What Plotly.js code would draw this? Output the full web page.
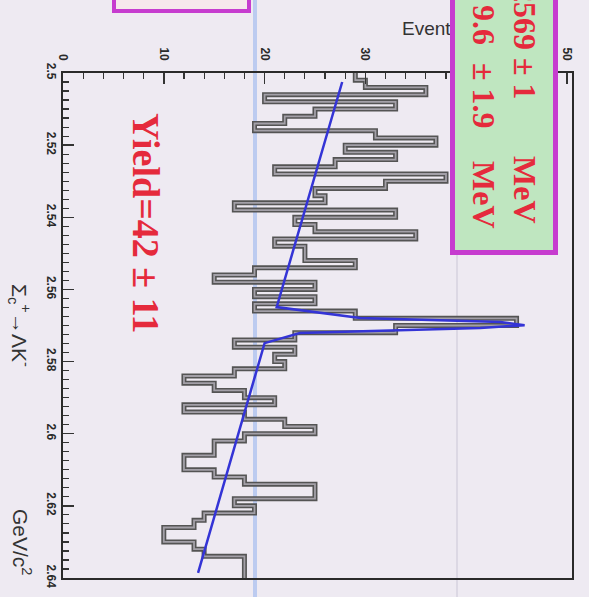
<!DOCTYPE html>
<html>
<head>
<meta charset="utf-8">
<script src="https://cdn.plot.ly/plotly-3.0.1.min.js"></script>
<style>
  html, body { margin: 0; padding: 0; background: #eeeaf2; }
  #chart { width: 589px; height: 597px; }
</style>
</head>
<body>
<div id="chart"></div>
<script>
// Invariant-mass histogram (2 MeV bins from 2.50 GeV), drawn sideways:
// mass runs down the page, events run to the right.
const binStart = 2.5;
const binWidth = 0.002;
const counts = [29, 30, 36, 20, 33, 25, 22, 19, 31, 37,
                28, 33, 27, 21, 38, 32, 25, 26, 17, 33,
                23, 25, 35, 21, 24, 24, 29, 19, 15, 25,
                19, 25, 19, 29, 45, 33, 23, 17, 23, 21,
                22, 17, 12, 15, 18, 21, 12, 18, 22, 25,
                18, 15, 15, 12, 12, 15, 18, 25, 25, 17,
                19, 14, 13, 10, 10, 13, 14, 18, 18, 18];

// Fitted curve: linear background plus the signal peak
const fitMass   = [2.5025, 2.5649, 2.5679, 2.5690, 2.5699, 2.5707, 2.5721, 2.5749, 2.6386];
const fitEvents = [27.7, 21.2, 29.5, 43.4, 45.8, 41.4, 23.5, 20.0, 13.4];

const massTicks    = [2.5, 2.52, 2.54, 2.56, 2.58, 2.6, 2.62, 2.64];
const massTickText = ["2.5", "2.52", "2.54", "2.56", "2.58", "2.6", "2.62", "2.64"];
const eventTicks    = [0, 10, 20, 30, 40, 50];
const eventTickText = ["0", "10", "20", "30", "40", "50"];

// step outline of the histogram
const stepX = [], stepY = [];
counts.forEach((c, i) => {
  const lo = binStart + i * binWidth;
  stepX.push(c, c);
  stepY.push(lo, lo + binWidth);
});

// page geometry
const W = 589, H = 597;
const M = { l: 63, r: 17, t: 73, b: 19 };
const pw = W - M.l - M.r, ph = H - M.t - M.b;
const px = x => (x - M.l) / pw;
const py = y => (H - M.b - y) / ph;

const red = '#e52a3c';
const serif = 'Liberation Serif, Times New Roman, serif';
const sans = 'Liberation Sans, Arial, sans-serif';

const traces = [
  { x: stepX, y: stepY, mode: 'lines', type: 'scatter',
    line: { color: '#545454', width: 5 }, hoverinfo: 'skip', showlegend: false },
  { x: stepX, y: stepY, mode: 'lines', type: 'scatter',
    line: { color: '#a3a0a8', width: 1.8 }, hoverinfo: 'skip', showlegend: false },
  { x: fitEvents, y: fitMass, mode: 'lines', type: 'scatter',
    line: { color: '#3434d6', width: 2.5 }, hoverinfo: 'skip', showlegend: false }
];

const axisFont = { family: sans, size: 12, color: '#2a2a2a', weight: 'bold' };

const layout = {
  width: W, height: H,
  margin: M,
  paper_bgcolor: '#eeeaf2',
  plot_bgcolor: 'rgba(0,0,0,0)',
  showlegend: false,
  xaxis: {
    range: [0, 50.5], side: 'top',
    tickvals: eventTicks, ticktext: eventTickText, tickangle: 90,
    ticks: 'inside', ticklen: 11, tickwidth: 1.5, tickcolor: '#333',
    minor: { dtick: 2, tick0: 0, ticks: 'inside', ticklen: 6, tickcolor: '#333', tickwidth: 1.2 },
    showline: true, linecolor: '#2a2a2a', linewidth: 2, mirror: true,
    showgrid: false, zeroline: false, tickfont: axisFont, ticklabelstandoff: 6
  },
  yaxis: {
    range: [2.64, 2.5],
    tickvals: massTicks, ticktext: massTickText, tickangle: 90,
    ticks: 'inside', ticklen: 11, tickwidth: 1.5, tickcolor: '#333',
    minor: { dtick: 0.0025, tick0: 2.5, ticks: 'inside', ticklen: 6, tickcolor: '#333', tickwidth: 1.2 },
    showline: true, linecolor: '#2a2a2a', linewidth: 2, mirror: true,
    showgrid: false, zeroline: false, tickfont: axisFont
  },
  shapes: [
    // pale guide line running across the page
    { type: 'line', xref: 'paper', yref: 'paper', x0: px(255), x1: px(255), y0: py(H + 5), y1: py(-5),
      line: { color: '#bccbf0', width: 4 }, layer: 'below' },
    { type: 'line', xref: 'paper', yref: 'paper', x0: px(457), x1: px(457), y0: py(H + 5), y1: py(255),
      line: { color: '#dcd8e4', width: 2 }, layer: 'below' },
    // lower edge of a framed label box
    { type: 'rect', xref: 'paper', yref: 'paper', x0: px(114), x1: px(249), y0: py(11), y1: py(-20),
      fillcolor: '#f6e8ec', line: { color: '#c63ccf', width: 4 }, layer: 'above' }
  ],
  annotations: [
    { xref: 'paper', yref: 'paper', x: px(400), y: py(27), xanchor: 'left', yanchor: 'middle',
      text: 'Events/(2 MeV/c<sup>2</sup>)', showarrow: false,
      font: { family: sans, size: 19, color: '#333' } },
    // framed fit-result box
    { xref: 'paper', yref: 'paper', x: px(504), y: py(105), xanchor: 'center', yanchor: 'middle',
      text: ' ', showarrow: false, width: 98, height: 290,
      bgcolor: '#bfe6c0', bordercolor: '#c63ccf', borderwidth: 5, borderpad: 0 },
    { xref: 'paper', yref: 'paper', x: px(525), y: py(18), xanchor: 'center', yanchor: 'middle',
      text: '<b>2569</b>', textangle: 90, showarrow: false, font: { family: serif, size: 32, color: red } },
    { xref: 'paper', yref: 'paper', x: px(525), y: py(79), xanchor: 'center', yanchor: 'middle',
      text: '<b>± 1</b>', textangle: 90, showarrow: false, font: { family: serif, size: 32, color: red } },
    { xref: 'paper', yref: 'paper', x: px(525), y: py(190), xanchor: 'center', yanchor: 'middle',
      text: '<b>MeV</b>', textangle: 90, showarrow: false, font: { family: serif, size: 32, color: red } },
    { xref: 'paper', yref: 'paper', x: px(484), y: py(25), xanchor: 'center', yanchor: 'middle',
      text: '<b>9.6</b>', textangle: 90, showarrow: false, font: { family: serif, size: 32, color: red } },
    { xref: 'paper', yref: 'paper', x: px(484), y: py(96), xanchor: 'center', yanchor: 'middle',
      text: '<b>± 1.9</b>', textangle: 90, showarrow: false, font: { family: serif, size: 32, color: red } },
    { xref: 'paper', yref: 'paper', x: px(484), y: py(195), xanchor: 'center', yanchor: 'middle',
      text: '<b>MeV</b>', textangle: 90, showarrow: false, font: { family: serif, size: 32, color: red } },
    // signal yield
    { xref: 'paper', yref: 'paper', x: px(146), y: py(223), xanchor: 'center', yanchor: 'middle',
      text: '<b>Yield=42 ± 11</b>', textangle: 90, showarrow: false, font: { family: serif, size: 38, color: red } },
    // mass axis title
    { xref: 'paper', yref: 'paper', x: px(20), y: py(325), xanchor: 'center', yanchor: 'middle',
      text: 'Σ<sub>c</sub><sup>+</sup>→ΛK<sup>-</sup>', textangle: 90, showarrow: false,
      font: { family: sans, size: 21, color: '#333' } },
    { xref: 'paper', yref: 'paper', x: px(22), y: py(542), xanchor: 'center', yanchor: 'middle',
      text: 'GeV/c<sup>2</sup>', textangle: 90, showarrow: false,
      font: { family: sans, size: 21, color: '#333' } }
  ]
};

Plotly.newPlot('chart', traces, layout, { staticPlot: true, displayModeBar: false });
</script>
</body>
</html>
